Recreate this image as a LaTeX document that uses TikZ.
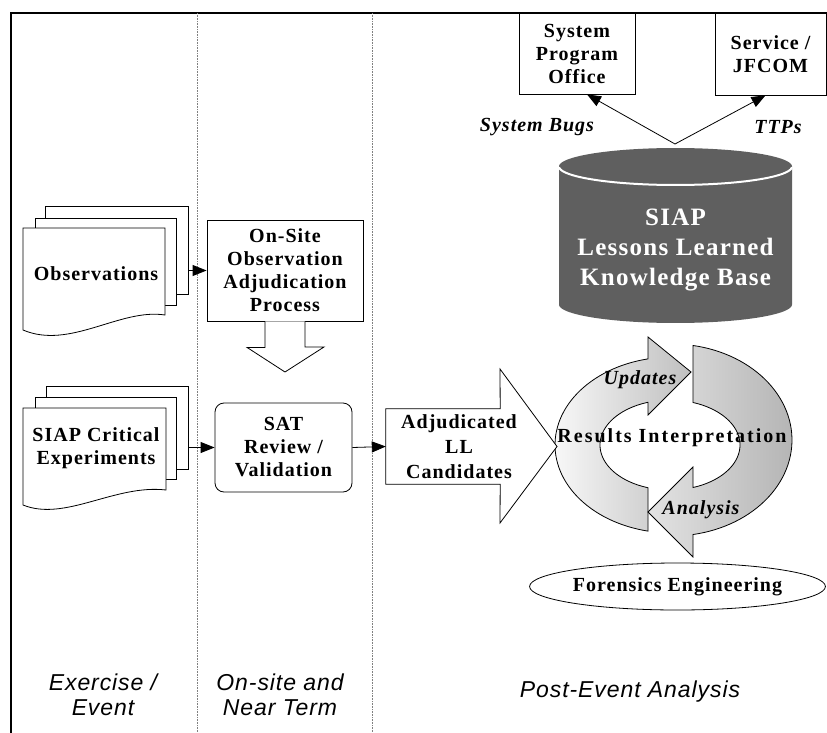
\documentclass[tikz,border=0pt]{standalone}
\usepackage{fontspec}
\setmainfont{Liberation Serif}[LetterSpace=5]
\setsansfont{Liberation Sans}[LetterSpace=4]
\usetikzlibrary{arrows.meta,shapes.geometric}
\definecolor{kbgray}{RGB}{95,95,95}
\begin{document}
\begin{tikzpicture}[x=1pt,y=-1pt,
  ln/.style={line width=0.8pt},
  lbl/.style={font=\fontsize{20}{23}\selectfont\bfseries, align=center, inner sep=0},
  box/.style={draw, fill=white, line width=0.8pt, inner sep=0, align=center, font=\fontsize{20}{23}\selectfont\bfseries},
  page/.style={draw, fill=white, line width=0.8pt, inner sep=0},
  conn/.style={line width=0.8pt, -{Triangle[length=14pt,width=11pt]}},
  blockarrow/.style={draw, fill=white, line width=0.8pt},
  phase/.style={font=\fontsize{23}{25}\selectfont\sffamily\itshape, align=center, inner sep=0},
  tag/.style={font=\fontsize{20}{23}\selectfont\bfseries\itshape, inner sep=0}
]
\useasboundingbox (0,0) rectangle (827,733);
% frame and lanes
\draw[line width=1.8pt] (11,733) -- (11,13) -- (827,13);
\draw[gray, densely dotted, line width=0.6pt] (197,13) -- (197,733);
\draw[gray, densely dotted, line width=0.6pt] (372,13) -- (372,733);

% Observations stack
\node[page, minimum width=143, minimum height=88] (obsC) at (116.5,250) {};
\node[page, minimum width=141, minimum height=87] (obsB) at (105.5,261.5) {};
\draw[ln, fill=white] (23,228) -- (165,228) -- (165,315) .. controls (120,308) and (70,350) .. (23,330) -- cycle;
\node[lbl] (obs) at (96,274) {Observations};

% Experiments stack
\node[page, minimum width=142, minimum height=83] (expC) at (117,427.5) {};
\node[page, minimum width=141, minimum height=82] (expB) at (105.5,438) {};
\draw[ln, fill=white] (23,408) -- (166,408) -- (166,490) .. controls (115,484) and (65,522) .. (23,505) -- cycle;
\node[lbl] (exp) at (96,448) {SIAP Critical\\Experiments};

% On-site box and down block arrow
\node[box, minimum width=156, minimum height=101] (onsite) at (285,270.5) {On-Site\\Observation\\Adjudication\\Process};
\draw[blockarrow] ([xshift=-20]onsite.south) -- ++(0,26) -- ++(-18,0) -- (285,372) -- (324,347) -- (305,347) -- ([xshift=20]onsite.south);

% SAT box
\node[box, rounded corners=9pt, minimum width=137, minimum height=89] (sat) at (283.5,447.5) {SAT\\Review /\\Validation};

% connectors
\draw[conn] (obsC.east |- onsite.west) -- (onsite.west);
\draw[conn] (expC.east |- sat.west) -- (sat.west);

% top boxes
\node[box, minimum width=116, minimum height=81] (spo) at (577,53.5) {System\\Program\\Office};
\node[box, minimum width=111, minimum height=82] (svc) at (770.5,54) {Service /\\JFCOM};
\coordinate (kbtop) at (675,144);
\draw[conn] (kbtop) -- ([xshift=10]spo.south);
\draw[conn] (kbtop) -- ([xshift=-5]svc.south);
\node[tag] (bugs) at (537,127) {System Bugs};
\node[tag] (ttps) at (778,127) {TTPs};

% knowledge base cylinder
\fill[kbgray] (559,166.5) -- (559,304.5)
  -- plot[domain=180:0, samples=60] ({675.5+116.5*cos(\x)},{304.5+18.5*sin(\x)})
  -- (792,166.5)
  -- plot[domain=0:-180, samples=60] ({675.5+116.5*cos(\x)},{166.5+18.5*sin(\x)}) -- cycle;
\draw[white, line width=2pt] plot[domain=178:2, samples=60] ({675.5+116.5*cos(\x)},{166.5+18.5*sin(\x)});
\node[font=\fontsize{25}{30}\selectfont\bfseries, text=white, align=center, inner sep=0] (kb) at (675.5,250) {SIAP\\Lessons Learned\\Knowledge Base};

% circular arrows
\path[draw, ln, left color=gray!6, right color=gray!50]
  plot[domain=101.84:258.16, samples=60] ({672+117*cos(\x)},{445+88*sin(\x)})
  -- (648,337) -- (691,372) -- (648,415)
  -- plot[domain=251.68:108.32, samples=60] ({670+70*cos(\x)},{445+45*sin(\x)}) -- cycle;
\path[draw, ln, left color=gray!22, right color=gray!58]
  plot[domain=-79.92:79.92, samples=60] ({672+120*cos(\x)},{440+96*sin(\x)})
  -- (693,557) -- (648,512) -- (693,467)
  -- plot[domain=70.82:-70.82, samples=60] ({670+70*cos(\x)},{445+45*sin(\x)}) -- cycle;

% adjudicated block arrow
\node[minimum width=114, minimum height=75, inner sep=0] (adj) at (443,446.5) {};
\draw[blockarrow] (adj.north west) -- (adj.north east) -- (500,369) -- (557,446.5) -- (500,523) -- (adj.south east) -- (adj.south west) -- cycle;
\node[lbl, font=\fontsize{20}{25}\selectfont\bfseries] (adjt) at (459,447) {Adjudicated\\LL\\Candidates};
\draw[conn] (sat.east) -- (adj.west);

% ring texts
\node[tag] (upd) at (640,380) {Updates};
\node[lbl, font=\fontsize{20}{23}\selectfont\bfseries\addfontfeature{LetterSpace=10}] (ri) at (672,438) {Results Interpretation};
\node[tag] (ana) at (701,510) {Analysis};

% forensics
\node[draw, ln, ellipse, fill=white, minimum width=265, minimum height=47, inner sep=0, font=\fontsize{20}{23}\selectfont\bfseries] (fe) at (677.5,586.5) {Forensics Engineering};

% phase labels
\node[phase] (ph1) at (103,695) {Exercise /\\Event};
\node[phase] (ph2) at (280,695) {On-site and\\Near Term};
\node[phase] (ph3) at (630,692) {Post-Event Analysis};
\end{tikzpicture}
\end{document}
